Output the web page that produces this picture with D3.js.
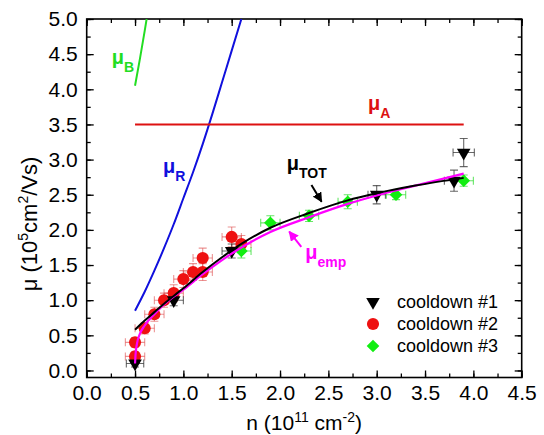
<!DOCTYPE html>
<html><head><meta charset="utf-8">
<script src="https://cdn.jsdelivr.net/npm/d3@7"></script>
<style>
html,body{margin:0;padding:0;background:#fff;}
svg{display:block;font-family:"Liberation Sans",Arial,sans-serif;}
</style></head>
<body>
<svg id="chart" width="544" height="435"></svg>
<script>
// ---- data ----
const xTicks = [0,0.5,1.0,1.5,2.0,2.5,3.0,3.5,4.0,4.5];
const yTicks = [0,0.5,1.0,1.5,2.0,2.5,3.0,3.5,4.0,4.5,5.0];

// cooldown #1 (black triangles)
const n1  = [0.5, 0.9, 1.5, 3.0, 3.8, 3.9];
const mu1 = [0.1, 1.0, 1.7, 2.5, 2.7, 3.1];
const xe1 = [0.09,0.10,0.10,0.09,0.10,0.11];
const ye1 = [0.05,0.08,0.10,0.13,0.15,0.20];
// cooldown #2 (red circles)
const n2  = [0.5, 0.5, 0.6, 0.7, 0.8, 0.9, 1.0, 1.1, 1.2, 1.2, 1.5, 1.6];
const mu2 = [0.2, 0.4, 0.6, 0.8, 1.0, 1.1, 1.3, 1.4, 1.4, 1.6, 1.9, 1.8];
const xe2 = [0.1,0.1,0.1,0.1,0.1,0.1,0.1,0.1,0.1,0.1,0.1,0.1];
const ye2 = [0.07,0.07,0.08,0.10,0.10,0.12,0.12,0.12,0.12,0.14,0.14,0.12];
// cooldown #3 (green diamonds)
const n3  = [1.6, 1.9, 2.3, 2.7, 3.2, 3.9];
const mu3 = [1.7, 2.1, 2.2, 2.4, 2.5, 2.7];
const xe3 = [0.1,0.1,0.1,0.1,0.1,0.1];
const ye3 = [0.10,0.10,0.08,0.10,0.07,0.08];

// model curves
const nB  = [0.5, 0.55, 0.6, 0.62];
const muB = [4.05, 4.43, 4.83, 5.0];
const nR  = [0.5, 0.6, 0.7, 0.8, 0.9, 1.0, 1.1, 1.2, 1.3, 1.4, 1.5, 1.6];
const muR = [0.85,1.12,1.42,1.74,2.08,2.45,2.82,3.22,3.65,4.10,4.55,5.0];
const nA  = [0.5, 3.9];
const muA = [3.5, 3.5];
const nTOT  = [0.5, 0.6, 0.7, 0.8, 0.9, 1.0, 1.2, 1.4, 1.6, 1.9, 2.3, 2.7, 3.0, 3.4, 3.9];
const muTOT = [0.58,0.71,0.83,0.95,1.06,1.17,1.40,1.61,1.80,2.03,2.24,2.42,2.52,2.63,2.74];
const nEmp  = [0.5, 0.505, 0.52, 0.55, 0.6, 0.7, 0.8, 0.9, 1.0, 1.2, 1.4, 1.6, 1.9, 2.3, 2.7, 3.0, 3.4, 3.9];
const muEmp = [0.1, 0.22, 0.38, 0.52, 0.64, 0.8, 0.94, 1.05, 1.15, 1.37, 1.57, 1.75, 1.97, 2.18, 2.37, 2.49, 2.63, 2.80];

const legendLabels = ["cooldown #1","cooldown #2","cooldown #3"];

// ---- layout ----
const L = 86.7, R = 521.7, T = 19, B = 377.5;
const svg = d3.select("#chart");
const x = d3.scaleLinear().domain([0,4.5]).range([L,R]);
const y = d3.scaleLinear().domain([-0.1,5.0]).range([B,T]);

const FONT = 21;
const colBlack="#000", colRed="#ee1111", colGreen="#11ee11", colBlue="#1010dd", colMag="#ff00ff", colLineRed="#dd1111", colLineGreen="#22dd22";

svg.append("defs").append("clipPath").attr("id","plotclip")
  .append("rect").attr("x",L).attr("y",T).attr("width",R-L).attr("height",B-T);

// axes with inward ticks
const minorX = d3.range(0,4.51,0.25);
const minorY = d3.range(0,5.01,0.25);
function axisGroup(axis, tx, ty){
  const g = svg.append("g").attr("transform",`translate(${tx},${ty})`).call(axis);
  g.select(".domain").remove();
  g.selectAll("line").attr("stroke","#000").attr("stroke-width",1.3);
  return g;
}
axisGroup(d3.axisBottom(x).tickValues(minorX).tickSize(-4).tickFormat(""),0,B);
axisGroup(d3.axisTop(x).tickValues(minorX).tickSize(-4).tickFormat(""),0,T);
axisGroup(d3.axisLeft(y).tickValues(minorY).tickSize(-4).tickFormat(""),L,0);
axisGroup(d3.axisRight(y).tickValues(minorY).tickSize(-4).tickFormat(""),R,0);
axisGroup(d3.axisBottom(x).tickValues(xTicks).tickSize(-7).tickPadding(8).tickFormat(d3.format(".1f")),0,B);
axisGroup(d3.axisTop(x).tickValues(xTicks).tickSize(-7).tickFormat(""),0,T);
axisGroup(d3.axisLeft(y).tickValues(yTicks).tickSize(-7).tickPadding(9).tickFormat(d3.format(".1f")),L,0);
axisGroup(d3.axisRight(y).tickValues(yTicks).tickSize(-7).tickFormat(""),R,0);
svg.selectAll("g text").attr("font-size",FONT).attr("fill","#000").attr("font-family","Liberation Sans, Arial, sans-serif");

// frame
svg.append("rect").attr("x",L).attr("y",T).attr("width",R-L).attr("height",B-T)
  .attr("fill","none").attr("stroke","#000").attr("stroke-width",1.6);

// axis titles
const xt = svg.append("text").attr("x",(L+R)/2).attr("y",430).attr("text-anchor","middle").attr("font-size",FONT);
xt.append("tspan").text("n (10");
xt.append("tspan").attr("dy",-8).attr("font-size",14).text("11");
xt.append("tspan").attr("dy",8).text(" cm");
xt.append("tspan").attr("dy",-8).attr("font-size",14).text("-2");
xt.append("tspan").attr("dy",8).text(")");

const yt = svg.append("text").attr("transform","translate(36.5,224) rotate(-90)").attr("text-anchor","middle").attr("font-size",22);
yt.append("tspan").text("\u03bc (10");
yt.append("tspan").attr("dy",-9).attr("font-size",14).text("5");
yt.append("tspan").attr("dy",9).text("cm");
yt.append("tspan").attr("dy",-9).attr("font-size",14).text("2");
yt.append("tspan").attr("dy",9).text("/Vs)");

// plot content
const plot = svg.append("g").attr("clip-path","url(#plotclip)");

function errorBars(ns, mus, xe, ye, color){
  const g = plot.append("g").attr("stroke",color).attr("stroke-width",1.1).attr("fill","none");
  ns.forEach((n,i)=>{
    const cx=x(n), cy=y(mus[i]);
    const x0=x(n-xe[i]), x1=x(n+xe[i]), y0=y(mus[i]-ye[i]), y1=y(mus[i]+ye[i]);
    g.append("line").attr("x1",x0).attr("x2",x1).attr("y1",cy).attr("y2",cy);
    g.append("line").attr("x1",x0).attr("x2",x0).attr("y1",cy-4).attr("y2",cy+4);
    g.append("line").attr("x1",x1).attr("x2",x1).attr("y1",cy-4).attr("y2",cy+4);
    g.append("line").attr("x1",cx).attr("x2",cx).attr("y1",y0).attr("y2",y1);
    g.append("line").attr("x1",cx-4).attr("x2",cx+4).attr("y1",y0).attr("y2",y0);
    g.append("line").attr("x1",cx-4).attr("x2",cx+4).attr("y1",y1).attr("y2",y1);
  });
}
errorBars(n2,mu2,xe2,ye2,"rgba(220,60,60,0.55)");
errorBars(n3,mu3,xe3,ye3,"rgba(40,220,40,0.7)");
errorBars(n1,mu1,xe1,ye1,"rgba(40,40,40,0.7)");

const triangle = d3.symbol().type(d3.symbolTriangle).size(80);
const circle = d3.symbol().type(d3.symbolCircle).size(115);
const diamond = d3.symbol().type(d3.symbolSquare).size(80);

function points(ns, mus, sym, color, rot){
  plot.append("g").selectAll("path").data(ns).join("path")
    .attr("d",sym)
    .attr("transform",(d,i)=>`translate(${x(d)},${y(mus[i])}) rotate(${rot})`)
    .attr("fill",color);
}

const line = d3.line().curve(d3.curveMonotoneX);
function curve(ns, mus, color, w){
  plot.append("path").attr("d",line(ns.map((n,i)=>[x(n),y(mus[i])])))
    .attr("fill","none").attr("stroke",color).attr("stroke-width",w);
}
points(n2,mu2,circle,colRed,0);
points(n3,mu3,diamond,colGreen,45);
points(n1,mu1,triangle,colBlack,180);

curve(nB,muB,colLineGreen,2);
curve(nR,muR,colBlue,2);
curve(nA,muA,colLineRed,2);
curve(nEmp,muEmp,colMag,2.2);
curve(nTOT,muTOT,colBlack,2);

// curve labels
function muLabel(xv, yv, sub, color){
  const t = svg.append("text").attr("x",x(xv)).attr("y",y(yv)).attr("fill",color).attr("font-weight","bold");
  t.append("tspan").attr("font-size",20).text("\u03bc");
  t.append("tspan").attr("font-size",14).attr("dy",8).text(sub);
}
muLabel(0.26,4.36,"B",colLineGreen);
muLabel(0.79,2.81,"R",colBlue);
muLabel(2.91,3.705,"A",colLineRed);
muLabel(2.07,2.845,"TOT",colBlack);
muLabel(2.26,1.58,"emp",colMag);

// arrows
const defs = svg.select("defs");
function marker(id,color){
  defs.append("marker").attr("id",id).attr("viewBox","0 0 10 10").attr("refX",9).attr("refY",5)
    .attr("markerWidth",10).attr("markerHeight",10).attr("orient","auto-start-reverse")
    .attr("markerUnits","userSpaceOnUse")
    .append("path").attr("d","M0,0 L10,5 L0,10 z").attr("fill",color);
}
marker("arrBlack",colBlack); marker("arrMag",colMag);
svg.append("line").attr("x1",x(2.325)).attr("y1",y(2.64)).attr("x2",x(2.43)).attr("y2",y(2.40))
  .attr("stroke",colBlack).attr("stroke-width",2).attr("marker-end","url(#arrBlack)");
svg.append("line").attr("x1",x(2.22)).attr("y1",y(1.76)).attr("x2",x(2.095)).attr("y2",y(1.975))
  .attr("stroke",colMag).attr("stroke-width",2).attr("marker-end","url(#arrMag)");

// legend
const legSyms = [[triangle,colBlack,180],[circle,colRed,0],[diamond,colGreen,45]];
const legY = [302,324,346];
legendLabels.forEach((lab,i)=>{
  svg.append("path").attr("d",legSyms[i][0]).attr("fill",legSyms[i][1])
    .attr("transform",`translate(373,${legY[i]}) rotate(${legSyms[i][2]})`);
  svg.append("text").attr("x",397).attr("y",legY[i]).attr("dy","0.35em").attr("font-size",18).text(lab);
});
</script>
</body></html>
